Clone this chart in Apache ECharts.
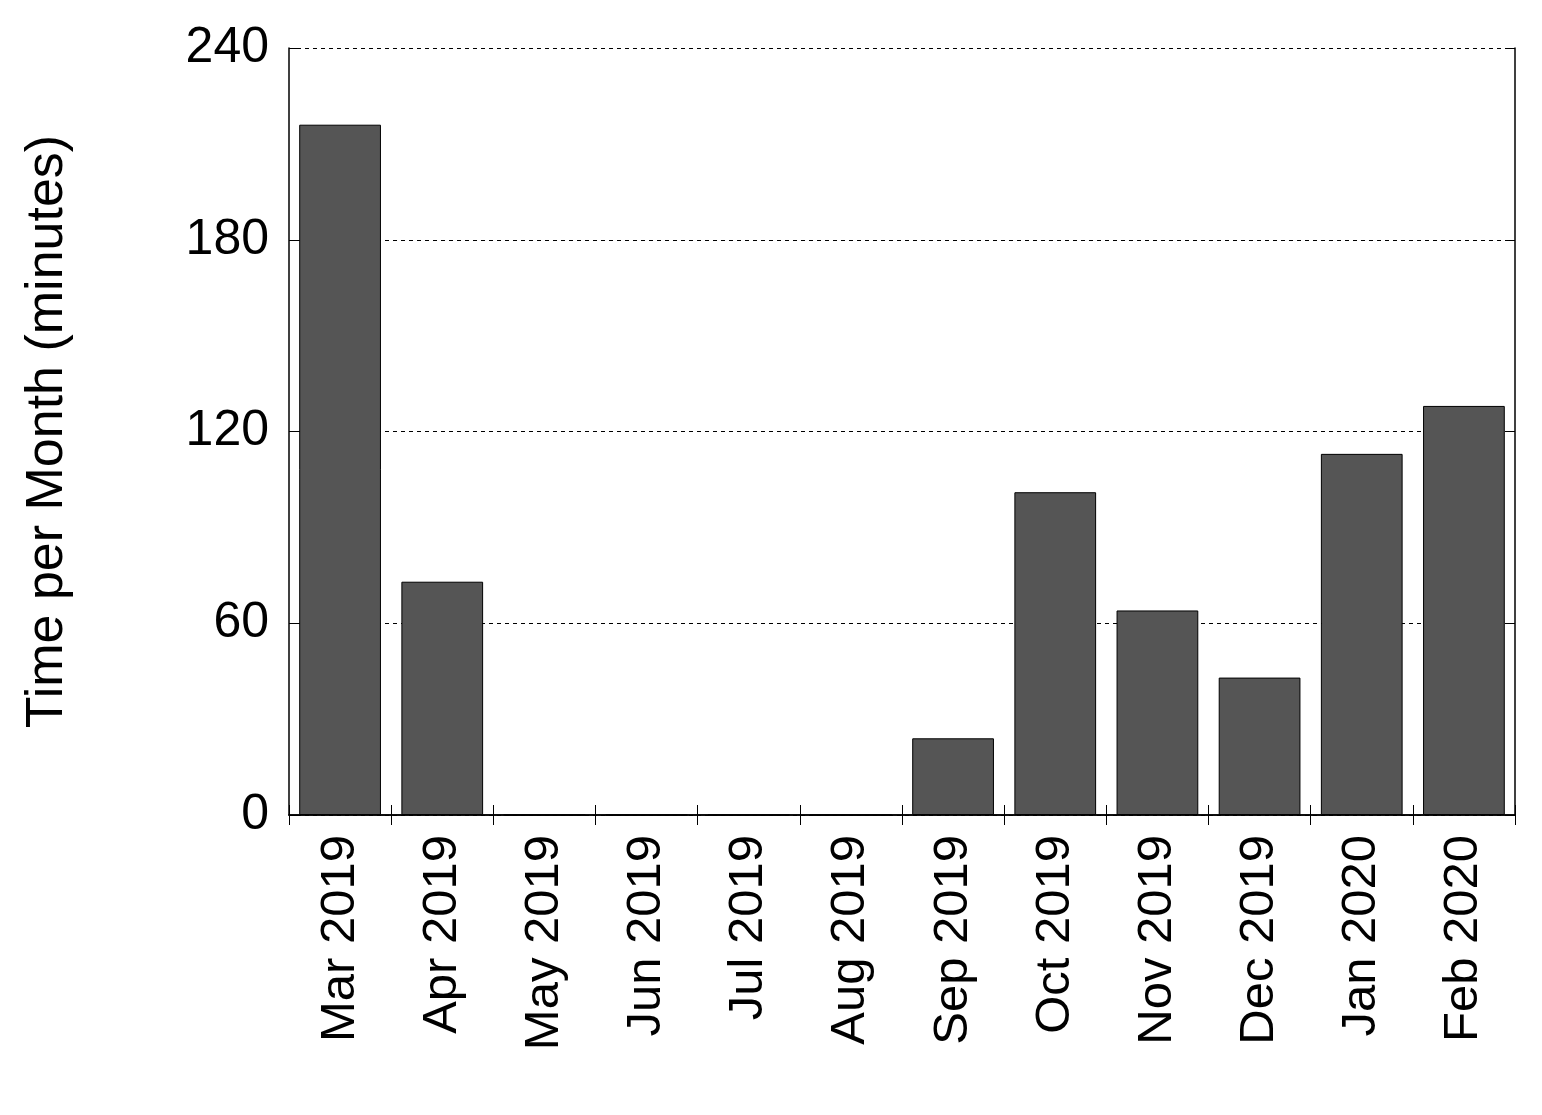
<!DOCTYPE html>
<html><head><meta charset="utf-8">
<script src="https://cdn.jsdelivr.net/npm/echarts@6/dist/echarts.min.js"></script>
<style>html,body{margin:0;background:#fff}#c{width:1542px;height:1115px}</style>
</head><body><div id="c"></div>
<script>
const categories=['Mar 2019','Apr 2019','May 2019','Jun 2019','Jul 2019','Aug 2019','Sep 2019','Oct 2019','Nov 2019','Dec 2019','Jan 2020','Feb 2020'];
const values=[216,73,0,0,0,0,24,101,64,43,113,128];
const yTicks=[0,60,120,180,240];
const chart=echarts.init(document.getElementById('c'));
const font='Liberation Sans, Arial, sans-serif';
const axLine={show:true,lineStyle:{color:'#000',width:1.5}};
const tick={show:true,inside:true,length:10,lineStyle:{color:'#000'}};
chart.setOption({
  animation:false,
  grid:{left:289,right:27,top:48,bottom:300},
  xAxis:[{type:'category',data:categories,axisLine:axLine,axisTick:tick,
    axisLabel:{rotate:90,fontSize:49,color:'#000',fontFamily:font,margin:20}},
   {type:'category',data:categories,position:'top',axisLine:axLine,axisTick:tick,axisLabel:{show:false}}],
  yAxis:[{type:'value',min:yTicks[0],max:yTicks[yTicks.length-1],interval:60,axisLine:axLine,axisTick:tick,
    axisLabel:{fontSize:50,color:'#000',fontFamily:font,margin:20},
    splitLine:{show:true,lineStyle:{color:'#000',type:[4,4],width:1}},
    name:'Time per Month (minutes)',nameLocation:'middle',nameGap:215,
    nameTextStyle:{fontSize:52,color:'#000',fontFamily:font}},
   {type:'value',min:0,max:240,interval:60,position:'right',axisLine:axLine,axisTick:tick,
    axisLabel:{show:false},splitLine:{show:false}}],
  series:[{type:'bar',data:values,barWidth:'80%',
    itemStyle:{color:'#555555',borderColor:'#000',borderWidth:1}}]
});
</script></body></html>
